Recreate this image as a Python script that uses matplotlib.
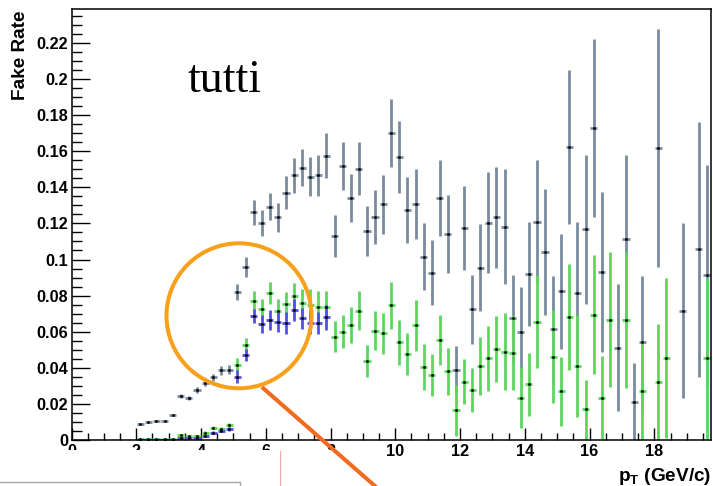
import numpy as np
import matplotlib
matplotlib.use("Agg")
import matplotlib.pyplot as plt
from matplotlib.patches import Circle, Rectangle
from matplotlib.lines import Line2D
from matplotlib.ticker import MultipleLocator, FuncFormatter

# fake rate vs pT, bins of 0.25 GeV/c (bin centres)
pt_all = [2.125, 2.375, 2.625, 2.875, 3.125, 3.375, 3.625, 3.875, 4.125, 4.375,
          4.625, 4.875, 5.125, 5.375, 5.625, 5.875, 6.125, 6.375, 6.625, 6.875,
          7.125, 7.375, 7.625, 7.875, 8.125, 8.375, 8.625, 8.875, 9.125, 9.375,
          9.625, 9.875, 10.125, 10.375, 10.625, 10.875, 11.125, 11.375, 11.625, 11.875,
          12.125, 12.375, 12.625, 12.875, 13.125, 13.375, 13.625, 13.875, 14.125, 14.375,
          14.625, 14.875, 15.125, 15.375, 15.625, 15.875, 16.125, 16.375, 16.875, 17.125,
          17.375, 17.625, 18.125, 18.875, 19.375, 19.625]
rate_all = [0.0090, 0.0097, 0.0107, 0.0105, 0.0138, 0.0244, 0.0234, 0.0277, 0.0314, 0.0347,
            0.0386, 0.0390, 0.0820, 0.0957, 0.1261, 0.1204, 0.1293, 0.1234, 0.1370, 0.1466,
            0.1509, 0.1459, 0.1466, 0.1575, 0.1130, 0.1518, 0.1342, 0.1503, 0.1160, 0.1234,
            0.1307, 0.1699, 0.1570, 0.1274, 0.1307, 0.1016, 0.0927, 0.1342, 0.1140, 0.0388,
            0.1173, 0.0724, 0.0955, 0.1204, 0.1234, 0.1182, 0.0674, 0.0600, 0.0920, 0.1210,
            0.1043, 0.0613, 0.0825, 0.1625, 0.0816, 0.1167, 0.1727, 0.0933, 0.0512, 0.1115,
            0.0212, 0.0541, 0.1616, 0.0715, 0.1056, 0.0912]
err_all = [0.0004, 0.0004, 0.0004, 0.0004, 0.0005, 0.0012, 0.0012, 0.0015, 0.0016, 0.0020,
           0.0025, 0.0025, 0.0045, 0.0055, 0.0069, 0.0072, 0.0074, 0.0080, 0.0090, 0.0098,
           0.0103, 0.0109, 0.0115, 0.0125, 0.0116, 0.0134, 0.0134, 0.0148, 0.0138, 0.0150,
           0.0163, 0.0188, 0.0200, 0.0183, 0.0192, 0.0187, 0.0181, 0.0210, 0.0217, 0.0134,
           0.0233, 0.0190, 0.0240, 0.0280, 0.0279, 0.0318, 0.0240, 0.0250, 0.0287, 0.0340,
           0.0348, 0.0297, 0.0319, 0.0427, 0.0390, 0.0413, 0.0493, 0.0443, 0.0353, 0.0464,
           0.0212, 0.0367, 0.0660, 0.0485, 0.0707, 0.0610]

pt_green = [2.125, 2.375, 2.625, 2.875, 3.125, 3.375, 3.625, 3.875, 4.125, 4.375,
            4.625, 4.875, 5.125, 5.375, 5.625, 5.875, 6.125, 6.375, 6.625, 6.875,
            7.125, 7.375, 7.625, 7.875, 8.125, 8.375, 8.625, 8.875, 9.125, 9.375,
            9.625, 9.875, 10.125, 10.375, 10.625, 10.875, 11.125, 11.375, 11.625, 11.875,
            12.125, 12.375, 12.625, 12.875, 13.125, 13.375, 13.625, 13.875, 14.125, 14.375,
            14.875, 15.125, 15.375, 15.625, 15.875, 16.125, 16.375, 16.625, 17.125, 17.625,
            18.125, 18.375, 19.625]
rate_green = [0.0005, 0.0005, 0.0005, 0.0005, 0.0005, 0.0026, 0.0024, 0.0024, 0.0040, 0.0069,
              0.0061, 0.0083, 0.0416, 0.0526, 0.0770, 0.0724, 0.0813, 0.0715, 0.0753, 0.0798,
              0.0761, 0.0748, 0.0739, 0.0739, 0.0572, 0.0600, 0.0637, 0.0716, 0.0439, 0.0606,
              0.0591, 0.0746, 0.0541, 0.0476, 0.0635, 0.0403, 0.0360, 0.0554, 0.0380, 0.0164,
              0.0323, 0.0277, 0.0410, 0.0452, 0.0504, 0.0489, 0.0484, 0.0235, 0.0308, 0.0656,
              0.0462, 0.0271, 0.0680, 0.0410, 0.0170, 0.0693, 0.0235, 0.0665, 0.0665, 0.0271,
              0.0321, 0.0452, 0.0452]
err_green = [0.0003, 0.0003, 0.0003, 0.0003, 0.0003, 0.0006, 0.0006, 0.0006, 0.0008, 0.0010,
             0.0010, 0.0012, 0.0037, 0.0037, 0.0055, 0.0059, 0.0062, 0.0066, 0.0066, 0.0074,
             0.0076, 0.0086, 0.0085, 0.0086, 0.0085, 0.0090, 0.0099, 0.0108, 0.0088, 0.0110,
             0.0115, 0.0130, 0.0123, 0.0118, 0.0141, 0.0127, 0.0118, 0.0139, 0.0129, 0.0143,
             0.0125, 0.0120, 0.0163, 0.0179, 0.0185, 0.0212, 0.0207, 0.0167, 0.0174, 0.0258,
             0.0258, 0.0191, 0.0293, 0.0282, 0.0165, 0.0330, 0.0228, 0.0374, 0.0375, 0.0270,
             0.0320, 0.0443, 0.0447]

pt_blue = [2.125, 2.375, 2.625, 2.875, 3.125, 3.375, 3.625, 3.875, 4.125, 4.375,
           4.625, 4.875, 5.125, 5.375, 5.625, 5.875, 6.125, 6.375, 6.625, 6.875,
           7.125, 7.375, 7.625, 7.875]
rate_blue = [0.0001, 0.0001, 0.0001, 0.0001, 0.0002, 0.0012, 0.0009, 0.0009, 0.0022, 0.0040,
             0.0050, 0.0061, 0.0351, 0.0471, 0.0687, 0.0643, 0.0665, 0.0655, 0.0650, 0.0720,
             0.0674, 0.0646, 0.0650, 0.0680]
err_blue = [0.0002, 0.0002, 0.0002, 0.0002, 0.0002, 0.0004, 0.0004, 0.0004, 0.0006, 0.0008,
            0.0008, 0.0010, 0.0035, 0.0035, 0.0039, 0.0050, 0.0055, 0.0055, 0.0060, 0.0060,
            0.0060, 0.0060, 0.0060, 0.0070]

plt.rcParams['font.family'] = ['Liberation Sans', 'DejaVu Sans']
plt.rcParams['mathtext.fontset'] = 'custom'
plt.rcParams['mathtext.rm'] = 'Liberation Sans:bold'
plt.rcParams['mathtext.it'] = 'Liberation Sans:bold'
plt.rcParams['mathtext.bf'] = 'Liberation Sans:bold'

fig = plt.figure(figsize=(7.13, 4.86), dpi=100)
ax = fig.add_axes([71.5 / 713, 46 / 486, (711 - 71.5) / 713, (440 - 9) / 486])

def draw(x, y, e, color):
    ax.errorbar(x, y, yerr=e, xerr=0.11, fmt='s', ms=0.9, mfc='k', mec='k',
                ecolor=color, elinewidth=2.0, capsize=0, clip_on=True)

draw(pt_all, rate_all, err_all, '#7a8b9d')
draw(pt_green, rate_green, err_green, '#5cd65c')
draw(pt_blue, rate_blue, err_blue, '#5252e0')

ax.set_xlim(0, 19.75)
ax.set_ylim(0, 0.2388)
ax.xaxis.set_major_locator(MultipleLocator(2))
ax.xaxis.set_minor_locator(MultipleLocator(0.5))
ax.yaxis.set_major_locator(MultipleLocator(0.02))
ax.yaxis.set_minor_locator(MultipleLocator(0.005))
ax.yaxis.set_major_formatter(FuncFormatter(lambda v, p: '%g' % round(v, 3)))
ax.tick_params(axis='both', which='both', direction='in', top=False, right=False,
               width=1.0, color='k')
ax.tick_params(axis='y', which='major', length=13, pad=2.5)
ax.tick_params(axis='y', which='minor', length=7)
ax.tick_params(axis='x', which='major', length=8.5, pad=3)
ax.tick_params(axis='x', which='minor', length=4.8)
for lab in ax.get_xticklabels() + ax.get_yticklabels():
    lab.set_fontweight('bold')
    lab.set_fontsize(11.7)
for s in ax.spines.values():
    s.set_linewidth(1.1)

fig.text(20.5 / 713, 1 - 10 / 486, 'Fake Rate', rotation=90, ha='center', va='top',
         fontsize=13.7, fontweight='bold')
fig.text(711 / 713, 1 - 481 / 486, r'$\mathrm{p_{T}}$ (GeV/c)', ha='right', va='baseline',
         fontsize=13.7, fontweight='bold')
fig.text(187 / 713, 1 - 91.7 / 486, 'tutti', ha='left', va='baseline',
         fontsize=33, family=['Liberation Serif', 'DejaVu Serif'])

# white band over the lower tick labels, with the frame lines below it
fig.patches.append(Rectangle((0, 0), 3.75, 0.36, transform=fig.dpi_scale_trans,
                             facecolor='white', edgecolor='none', zorder=5))
fig.lines.append(Line2D([0, 2.40, 2.40], [0.043, 0.043, 0.0], transform=fig.dpi_scale_trans,
                        color='#a8a8a8', lw=1.0, zorder=6))
fig.lines.append(Line2D([2.80, 2.80], [0.35, 0.0], transform=fig.dpi_scale_trans,
                        color='#f6a5a5', lw=0.8, zorder=6))

# highlight ring and pointer
fig.patches.append(Circle((2.39, 1.702), 0.725, transform=fig.dpi_scale_trans,
                          facecolor='none', edgecolor='#f7a01b', lw=2.9, zorder=7))
fig.lines.append(Line2D([2.633, 3.80], [0.977, -0.044], transform=fig.dpi_scale_trans,
                        color='#f26a1e', lw=2.9, zorder=7))

fig.savefig('out.png', dpi=100)
